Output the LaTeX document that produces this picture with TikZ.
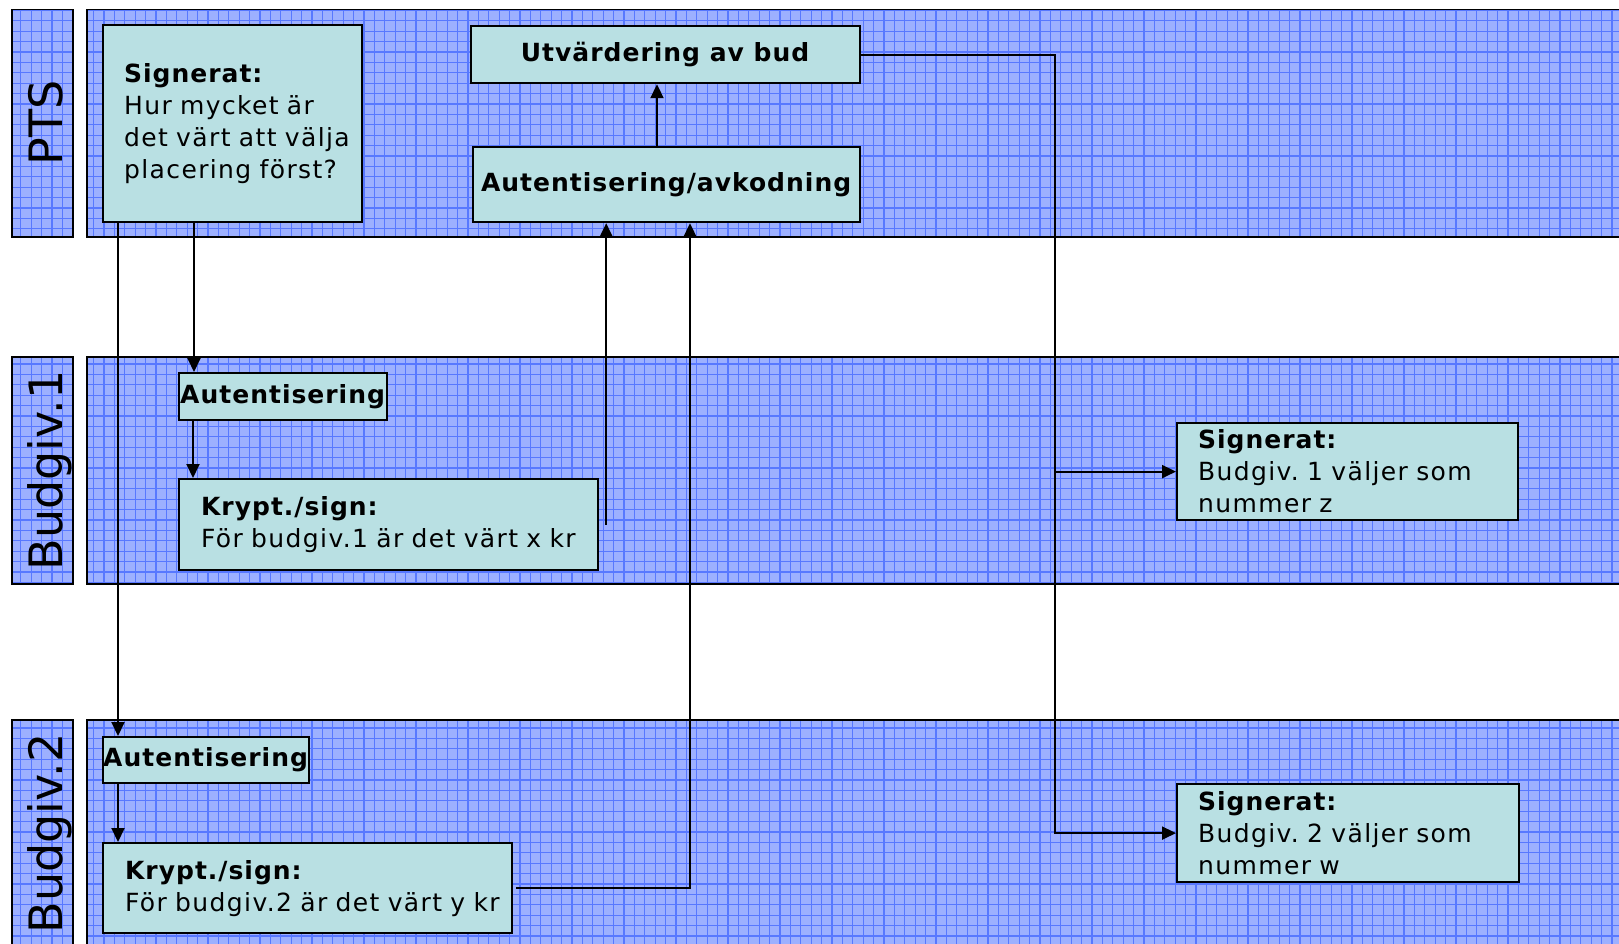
\documentclass[tikz,border=0pt]{standalone}
\usepackage{fontspec}
\setmainfont{DejaVu Sans}
\newfontfamily\boxfont{DejaVu Sans}[LetterSpace=5.5, BoldFeatures={LetterSpace=4.0}]
\usetikzlibrary{arrows.meta,calc}
\definecolor{lanebg}{HTML}{9DB0FF}
\definecolor{gridc}{HTML}{5878FF}
\definecolor{boxfill}{HTML}{B9E0E3}
\hyphenpenalty=10000
\newcommand\gridrect[4]{%
  \begin{scope}
    \clip (#1,#2) rectangle (#3,#4);
    \fill[lanebg] (#1,#2) rectangle (#3,#4);
    \draw[gridc, line width=1.2pt] (#1,#2) grid[step=10.4pt] (#3,#4);
  \end{scope}
  \draw[black, line width=1.8pt] (#1,#2) rectangle (#3,#4);}
\begin{document}
\begin{tikzpicture}[x=1pt,y=-1pt,
  box/.style={draw=black, line width=2.2pt, fill=boxfill, inner sep=0pt,
    font=\boxfont\fontsize{25}{32}\selectfont\frenchspacing},
  lanelbl/.style={rotate=90, anchor=base, inner sep=0pt,
    font=\fontsize{46}{50}\selectfont},
  arr/.style={draw=black, line width=2pt, -{Triangle[length=14pt,width=13pt]}}]
\useasboundingbox (0,0) rectangle (1619,944);

% lanes
\gridrect{12}{9.5}{73}{237}
\gridrect{87}{9.5}{1650}{237}
\gridrect{12}{357}{73}{584}
\gridrect{87}{357}{1650}{584}
\gridrect{12}{720}{73}{960}
\gridrect{87}{720}{1650}{960}

\node[lanelbl] (lP) at (62,123) {PTS};
\node[lanelbl] (l1) at (62,470.5) {Budgiv.1};
\node[lanelbl] (l2) at (62,833.5) {Budgiv.2};

% boxes
\node[box, minimum width=259pt, minimum height=197pt, text width=217pt, align=left, anchor=north west]
  (sigP) at (102,24) {\textbf{Signerat:}\\Hur mycket är\\\mbox{det värt att välja}\\placering först?};
\node[box, minimum width=389pt, minimum height=57pt, anchor=north west]
  (utv) at (470,25) {\textbf{Utvärdering av bud}};
\node[box, minimum width=387pt, minimum height=75pt, anchor=north west]
  (avk) at (472,146) {\textbf{Autentisering/avkodning}};
\node[box, minimum width=208pt, minimum height=47pt, anchor=north west]
  (aut1) at (178,372) {\textbf{Autentisering}};
\node[box, minimum width=419pt, minimum height=91pt, text width=375pt, align=left, anchor=north west]
  (kr1) at (178,478) {\textbf{Krypt./sign:}\\\mbox{För budgiv.1 är det värt x kr}};
\node[box, minimum width=341pt, minimum height=97pt, text width=299pt, align=left, anchor=north west]
  (sg1) at (1176,422) {\textbf{Signerat:}\\\mbox{Budgiv. 1 väljer som}\\nummer z};
\node[box, minimum width=206pt, minimum height=46pt, anchor=north west]
  (aut2) at (102,736) {\textbf{Autentisering}};
\node[box, minimum width=409pt, minimum height=90pt, text width=365pt, align=left, anchor=north west]
  (kr2) at (102,842) {\textbf{Krypt./sign:}\\\mbox{För budgiv.2 är det värt y kr}};
\node[box, minimum width=342pt, minimum height=98pt, text width=300pt, align=left, anchor=north west]
  (sg2) at (1176,783) {\textbf{Signerat:}\\\mbox{Budgiv. 2 väljer som}\\nummer w};

% connectors
\draw[arr] ([xshift=92pt]sigP.south west) -- ([xshift=16pt]aut1.north west);
\draw[arr] ([xshift=16pt]sigP.south west) -- ([xshift=16pt]aut2.north west);
\draw[arr] ([xshift=15pt]aut1.south west) -- ([xshift=15pt]kr1.north west);
\draw[arr] ([xshift=16pt]aut2.south west) -- ([xshift=16pt]kr2.north west);
\coordinate (k1r) at ([xshift=7pt]kr1.east);
\draw[arr] (k1r) -- (k1r |- avk.south);
\draw[arr] ([xshift=3pt]kr2.east) -| ([xshift=218pt]avk.south west);
\coordinate (a7) at ([xshift=185pt]avk.north west);
\draw[arr] (a7) -- (a7 |- utv.south);
\draw[arr] (utv.east) -| ([xshift=-121pt]sg2.west) -- (sg2.west);
\draw[arr] ([xshift=-121pt]sg1.west) -- (sg1.west);
\end{tikzpicture}
\end{document}
